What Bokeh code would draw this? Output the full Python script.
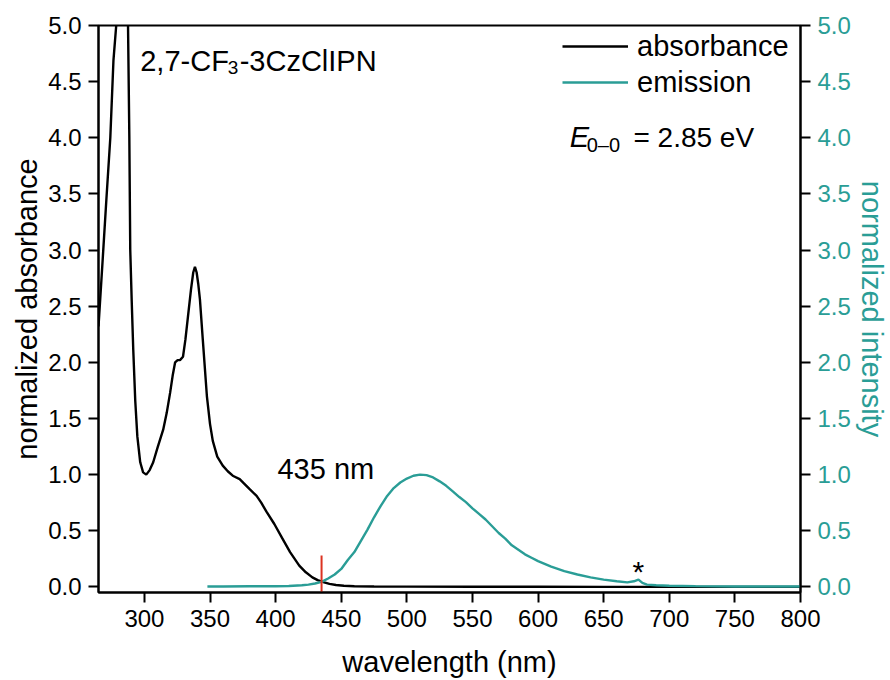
from bokeh.plotting import figure
from bokeh.models import (Range1d, LinearAxis, FixedTicker, NumeralTickFormatter,
                          Label, Legend, LegendItem)
from bokeh.embed import file_html
from bokeh.resources import INLINE

# ---------------- data ----------------
abs_wl = [265, 268, 271, 274, 276.4, 278.5, 281, 283.5, 286, 287.5, 288.5, 289.2, 290.3,
          291.5, 293, 294.6, 296.8, 299, 301.4, 304, 306.7, 310, 314.3, 317, 319.6, 321.5,
          323.4, 325.3, 327.1, 329.4, 331.2, 333.2, 335.5, 337.2, 338.5, 339.8, 341, 342.3,
          344.5, 347.6, 350, 352.1, 355.5, 359.7, 363.5, 367.3, 372.6, 376, 380.2, 385.5,
          389, 393, 399, 405.2, 411, 418, 423, 428, 432, 437, 441, 446, 452, 460, 475, 500,
          550, 600, 650, 700, 750, 800]
abs_val = [2.32, 2.88, 3.45, 4.0, 4.69, 5.0, 5.5, 5.9, 5.5, 5.0, 4.0, 3.0, 2.55,
           2.11, 1.66, 1.34, 1.11, 1.02, 1.0, 1.04, 1.11, 1.24, 1.40, 1.55, 1.73, 1.88,
           2.0, 2.02, 2.02, 2.05, 2.2, 2.41, 2.65, 2.8, 2.85, 2.8, 2.7, 2.56,
           2.2, 1.7, 1.45, 1.3, 1.16, 1.08, 1.03, 0.99, 0.96, 0.92, 0.87, 0.81,
           0.75, 0.67, 0.56, 0.43, 0.31, 0.19, 0.13, 0.085, 0.06, 0.04, 0.027, 0.017, 0.01,
           0.006, 0.003, 0.002, 0.001, 0.001, 0.0, 0.0, 0.0, 0.0]

em_wl = [348, 360, 380, 400, 410, 420, 425, 430, 435, 440, 445, 450, 455, 460, 465, 470,
         475, 480, 485, 490, 495, 500, 505, 510, 515, 520, 525, 530, 535, 540, 545, 550,
         555, 560, 565, 570, 575, 580, 585, 590, 595, 600, 610, 620, 630, 640, 650, 660,
         668, 673, 676.5, 679.5, 683, 690, 700, 720, 750, 800]
em_val = [0.004, 0.004, 0.005, 0.006, 0.008, 0.014, 0.02, 0.03, 0.045, 0.075, 0.11, 0.16,
          0.24, 0.31, 0.41, 0.51, 0.62, 0.72, 0.81, 0.88, 0.93, 0.965, 0.99, 1.0, 0.995,
          0.975, 0.94, 0.9, 0.85, 0.8, 0.755, 0.7, 0.65, 0.6, 0.54, 0.48, 0.43, 0.37, 0.33,
          0.29, 0.26, 0.23, 0.18, 0.14, 0.11, 0.085, 0.065, 0.05, 0.04, 0.05, 0.065, 0.035,
          0.02, 0.015, 0.01, 0.007, 0.004, 0.003]

onset_nm = 435
onset_marker = [-0.05, 0.28]
x_ticks = [300, 350, 400, 450, 500, 550, 600, 650, 700, 750, 800]
y_ticks = [0.0, 0.5, 1.0, 1.5, 2.0, 2.5, 3.0, 3.5, 4.0, 4.5, 5.0]

FONT = "Liberation Sans"
TEAL = "#2a9d96"
RED = "#dc3220"

p = figure(width=890, height=680, x_range=Range1d(265, 800), y_range=Range1d(-0.05, 5.0),
           extra_y_ranges={"em": Range1d(-0.05, 5.0)},
           output_backend="svg", toolbar_location=None,
           min_border_left=98, min_border_right=86, min_border_top=25, min_border_bottom=86)
p.xgrid.visible = False
p.ygrid.visible = False
p.outline_line_color = "black"
p.outline_line_width = 2
p.background_fill_color = "white"
p.border_fill_color = "white"

right = LinearAxis(y_range_name="em")
p.add_layout(right, "right")

for ax in [p.xaxis[0], p.yaxis[0], right]:
    ax.axis_line_width = 2
    ax.axis_line_color = "black"
    ax.major_tick_line_width = 2
    ax.major_tick_line_color = "black"
    ax.major_tick_out = 10
    ax.major_tick_in = 0
    ax.minor_tick_line_color = None
    ax.major_label_text_font = FONT
    ax.major_label_text_font_size = "24px"
    ax.major_label_text_color = "black"
    ax.major_label_standoff = 7
    ax.axis_label_text_font = FONT
    ax.axis_label_text_font_size = "29px"
    ax.axis_label_text_font_style = "normal"
    ax.axis_label_text_color = "black"

p.xaxis[0].ticker = FixedTicker(ticks=x_ticks)
p.xaxis[0].axis_label = "wavelength (nm)"
p.xaxis[0].axis_label_standoff = 16
for ax in [p.yaxis[0], right]:
    ax.ticker = FixedTicker(ticks=y_ticks)
    ax.formatter = NumeralTickFormatter(format="0.0")
    ax.axis_label_standoff = 2
p.yaxis[0].axis_label = "normalized absorbance"
right.axis_label = "normalized intensity"
right.axis_label_text_color = TEAL
right.major_label_text_color = TEAL

r_abs = p.line(abs_wl, abs_val, line_color="black", line_width=2.4)
r_em = p.line(em_wl, em_val, line_color=TEAL, line_width=2.4, y_range_name="em")
p.line([onset_nm, onset_nm], onset_marker, line_color=RED, line_width=2)

legend = Legend(items=[LegendItem(label="absorbance", renderers=[r_abs]),
                       LegendItem(label="emission", renderers=[r_em])],
                location=(464, 492), padding=0, spacing=0, margin=0,
                glyph_width=66, glyph_height=36, label_height=36, label_standoff=9,
                label_text_font=FONT, label_text_font_size="29px",
                label_text_color="black",
                border_line_alpha=0, background_fill_alpha=0)
p.add_layout(legend)

def lab(x, y, text, size, style="normal", align="left"):
    p.add_layout(Label(x=x, y=y, text=text, text_font=FONT, text_font_size=size,
                       text_font_style=style, text_baseline="alphabetic", text_align=align,
                       text_color="black"))

lab(296.8, 4.68, "2,7-CF", "29px")
lab(363.5, 4.627, "3", "19px")
lab(372.6, 4.68, "-3CzClIPN", "29px")
lab(624.2, 4.006, "E", "29px", style="italic")
lab(637.1, 3.935, "0\u20130", "20px")
lab(672.7, 4.006, "= 2.85 eV", "28px")
lab(401.4, 1.05, "435 nm", "29px")
lab(676.5, 0.14, "*", "30px", align="center")

open("out.html", "w").write(file_html(p, INLINE))
